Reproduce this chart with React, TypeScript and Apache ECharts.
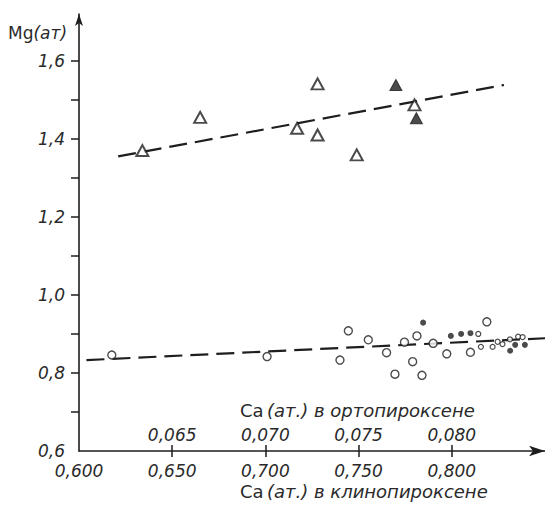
import React, { useEffect, useRef } from "react";
import * as echarts from "echarts";

// Ca (at.) in clinopyroxene on bottom axis; orthopyroxene axis = clino / 10
const clinoLabels = [0.6, 0.65, 0.7, 0.75, 0.8];
const clinoTicks = [0.65, 0.7, 0.75, 0.8];
const orthoLabels = [0.065, 0.07, 0.075, 0.08];
const yLabels = [0.6, 0.8, 1.0, 1.2, 1.4, 1.6];
const yTicks = [0.7, 0.8, 0.9, 1.0, 1.1, 1.2, 1.3, 1.4, 1.5, 1.6];

const triOpen = [
  [0.634, 1.37], [0.665, 1.455], [0.717, 1.427], [0.728, 1.541],
  [0.728, 1.41], [0.749, 1.359], [0.78, 1.487],
];
const triFilled = [[0.77, 1.538], [0.781, 1.453]];

const circOpen = [
  [0.6176, 0.846], [0.7009, 0.842], [0.74, 0.833], [0.7445, 0.908],
  [0.7552, 0.885], [0.765, 0.852], [0.7695, 0.797], [0.7746, 0.879],
  [0.7813, 0.895], [0.779, 0.829], [0.784, 0.794], [0.79, 0.876],
  [0.7973, 0.849], [0.81, 0.853], [0.8188, 0.931],
];
const circSmall = [
  [0.8142, 0.9], [0.8156, 0.867], [0.8312, 0.886], [0.8356, 0.893],
  [0.838, 0.892], [0.8219, 0.867], [0.8246, 0.88], [0.8272, 0.874],
];
const dotFilled = [
  [0.7846, 0.929], [0.7995, 0.895], [0.805, 0.9], [0.81, 0.902],
  [0.8313, 0.857], [0.834, 0.872], [0.8392, 0.872],
];
const upperTrend = [[0.621, 1.355], [0.828, 1.538]];
const lowerTrend = [[0.604, 0.833], [0.85, 0.889]];

const INK = "#1e1e1e";
const TXT = "#2a2a2a";
const FONT = "DejaVu Sans";

export default function App() {
  const ref = useRef<HTMLDivElement>(null);
  useEffect(() => {
    if (!ref.current) return;
    const chart = echarts.init(ref.current, null, { renderer: "svg" });
    const comma = (v: number, d: number) => v.toFixed(d).replace(".", ",");
    const dash = { color: INK, width: 2.2, type: [18, 8] as any };
    const nameRich = (size: number) => ({
      u: { fontFamily: FONT, fontSize: size, lineHeight: size, fill: TXT },
      i: { fontFamily: FONT, fontSize: size, lineHeight: size, fontStyle: "italic", fill: TXT },
    });
    chart.setOption({
      animation: false,
      backgroundColor: "#ffffff",
      grid: { left: 79, right: 0, top: 14, bottom: 57 },
      xAxis: [
        {
          type: "value",
          min: 0.6,
          max: 0.85,
          interval: 0.05,
          position: "bottom",
          splitLine: { show: false },
          axisLine: {
            show: true,
            lineStyle: { color: INK, width: 1.6 },
            symbol: ["none", "arrow"],
            symbolSize: [8, 16],
          },
          axisTick: {
            show: true,
            customValues: clinoTicks,
            length: 6,
            lineStyle: { color: INK, width: 1.5 },
          },
          axisLabel: {
            customValues: clinoLabels,
            margin: 12,
            lineHeight: 15,
            formatter: (v: number) => comma(v, 3),
            fontFamily: FONT,
            fontStyle: "italic",
            fontSize: 17,
            color: TXT,
          },
        },
        {
          type: "value",
          min: 0.06,
          max: 0.085,
          interval: 0.005,
          position: "bottom",
          splitLine: { show: false },
          axisLine: { show: false },
          axisTick: {
            show: true,
            inside: true,
            customValues: clinoTicks.map((v) => v / 10),
            length: 6,
            lineStyle: { color: INK, width: 1.5 },
          },
          axisLabel: {
            inside: true,
            customValues: orthoLabels,
            margin: 8,
            formatter: (v: number) => comma(v, 3),
            fontFamily: FONT,
            fontStyle: "italic",
            fontSize: 17,
            color: TXT,
          },
        },
      ],
      yAxis: {
        type: "value",
        min: 0.6,
        max: 1.72,
        interval: 0.1,
        splitLine: { show: false },
        axisLine: {
          show: true,
          lineStyle: { color: INK, width: 1.6 },
          symbol: ["none", "arrow"],
          symbolSize: [6, 12],
        },
        axisTick: {
          show: true,
          customValues: yTicks,
          length: 8,
          lineStyle: { color: INK, width: 1.5 },
        },
        axisLabel: {
          customValues: yLabels,
          margin: 14,
          formatter: (v: number) => comma(v, 1),
          fontFamily: FONT,
          fontStyle: "italic",
          fontSize: 17,
          color: TXT,
        },
      },
      graphic: [
        {
          type: "text",
          left: 8,
          top: 24,
          style: {
            text: "{u|Mg}{i|(ат)}",
            fill: TXT,
            rich: nameRich(17),
          },
        },
        {
          type: "text",
          left: 240,
          top: 401,
          style: {
            text: "{u|Ca} {i|(ат.) в ортопироксене}",
            fill: TXT,
            rich: nameRich(18),
          },
        },
        {
          type: "text",
          left: 240,
          top: 482,
          style: {
            text: "{u|Ca} {i|(ат.) в клинопироксене}",
            fill: TXT,
            rich: nameRich(18),
          },
        },
      ],
      series: [
        { type: "line", data: upperTrend, symbol: "none", lineStyle: dash, z: 1 },
        { type: "line", data: lowerTrend, symbol: "none", lineStyle: dash, z: 1 },
        {
          type: "scatter",
          data: triOpen,
          symbol: "triangle",
          symbolSize: [12, 11],
          itemStyle: { color: "#ffffff", borderColor: INK, borderWidth: 2 },
          z: 3,
        },
        {
          type: "scatter",
          data: triFilled,
          symbol: "triangle",
          symbolSize: [12, 11],
          itemStyle: { color: INK, borderColor: INK, borderWidth: 1 },
          z: 3,
        },
        {
          type: "scatter",
          data: circOpen,
          symbol: "circle",
          symbolSize: 8,
          itemStyle: { color: "#ffffff", borderColor: INK, borderWidth: 1.4 },
          z: 3,
        },
        {
          type: "scatter",
          data: circSmall,
          symbol: "circle",
          symbolSize: 5,
          itemStyle: { color: "#ffffff", borderColor: INK, borderWidth: 1.2 },
          z: 3,
        },
        {
          type: "scatter",
          data: dotFilled,
          symbol: "circle",
          symbolSize: 6,
          itemStyle: { color: INK, borderColor: INK, borderWidth: 0 },
          z: 3,
        },
      ],
    });
    return () => chart.dispose();
  }, []);
  return (
    <div
      ref={ref}
      style={{ position: "absolute", left: 0, top: 0, width: 545, height: 508 }}
    />
  );
}
